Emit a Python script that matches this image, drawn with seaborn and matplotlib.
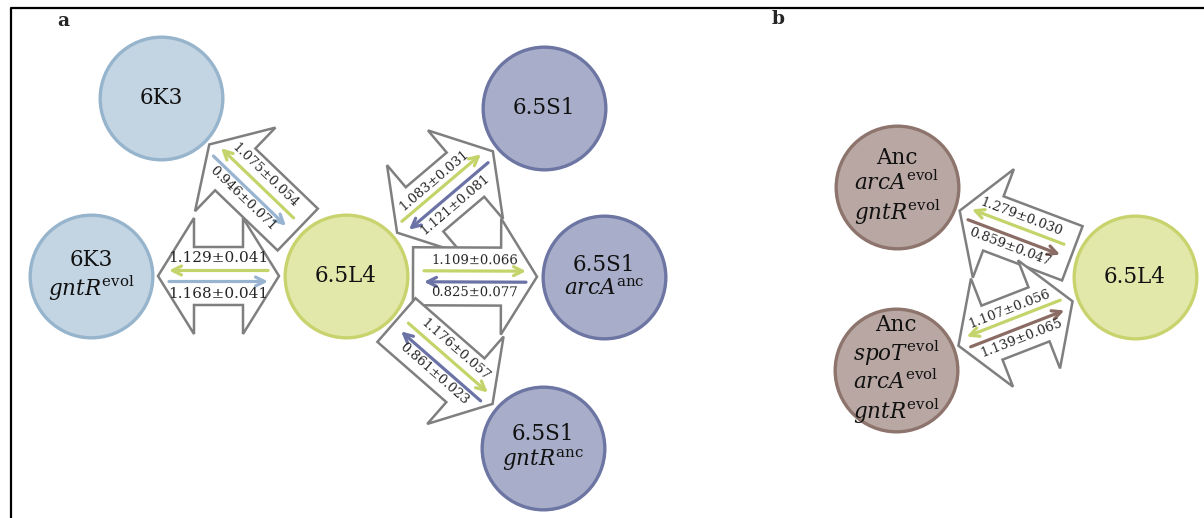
import numpy as np
import matplotlib.pyplot as plt
import seaborn as sns
from matplotlib.patches import Polygon

sns.set_theme(style="white")
plt.rcParams['font.family'] = ['DejaVu Serif']
plt.rcParams['mathtext.fontset'] = 'dejavuserif'

# strains (nodes)
node_labels = [
    "6.5L4",
    "6K3",
    "6K3\n$gntR^{\\rm evol}$",
    "6.5S1",
    "6.5S1\n$arcA^{\\rm anc}$",
    "6.5S1\n$gntR^{\\rm anc}$",
    "6.5L4",
    "Anc\n$arcA^{\\rm evol}$\n$gntR^{\\rm evol}$",
    "Anc\n$spoT^{\\rm evol}$\n$arcA^{\\rm evol}$\n$gntR^{\\rm evol}$",
]
node_group = ["L4", "K3", "K3", "S1", "S1", "S1", "L4", "Anc", "Anc"]

# competitions: hub -> partner, relative fitness (green = hub's value)
edge_hub = [0, 0, 0, 0, 0, 6, 6]
edge_partner = [1, 2, 3, 4, 5, 7, 8]
edge_kind = ["single", "double", "double", "single", "single", "single", "double"]
green_vals = ["1.075±0.054", "1.129±0.041", "1.083±0.031", "1.109±0.066",
              "1.176±0.057", "1.279±0.030", "1.107±0.056"]
partner_vals = ["0.946±0.071", "1.168±0.041", "1.121±0.081", "0.825±0.077",
                "0.861±0.023", "0.859±0.047", "1.139±0.065"]

# layout (pixel space)
node_x = [346, 161, 91, 544, 604, 543, 1135, 897, 896]
node_y = [276, 98, 276, 108, 277, 448, 277, 187, 370]
R = 63
fill = {"L4": "#e2e8aa", "K3": "#c3d4e2", "S1": "#a8aec9", "Anc": "#b8a7a2"}
edge = {"L4": "#c9d36e", "K3": "#97b4cd", "S1": "#6d75a3", "Anc": "#8d746d"}
arrow_col = {"L4": "#c5d46a", "K3": "#98b4d0", "S1": "#6a72a6", "Anc": "#8a6c64"}

fig = plt.figure(figsize=(12.04, 5.18), dpi=100)
ax = fig.add_axes([0, 0, 1, 1])
ax.set_xlim(0, 1204)
ax.set_ylim(518, 0)
ax.axis("off")

# frame
ax.plot([11, 11, 1204], [518, 8, 8], color="black", lw=1.6, solid_capstyle="butt")
ax.text(63, 21, "a", fontsize=13.5, fontweight="bold", ha="center", va="center")
ax.text(778, 19, "b", fontsize=13.5, fontweight="bold", ha="center", va="center")

# circles via seaborn scatter
lw = 2.4
diam_pt = 2 * R * 0.72 - lw
for g in fill:
    idx = [i for i, gg in enumerate(node_group) if gg == g]
    sns.scatterplot(x=[node_x[i] for i in idx], y=[node_y[i] for i in idx], ax=ax,
                    s=diam_pt ** 2, color=fill[g], edgecolor=edge[g], linewidth=lw,
                    zorder=3, legend=False)
for i, lab in enumerate(node_labels):
    ax.text(node_x[i], node_y[i], lab, fontsize=15.5, ha="center", va="center",
            linespacing=1.12, zorder=4, color="#111111")

HL, HW, SW = 36, 116, 58
for k in range(len(edge_hub)):
    h, p = edge_hub[k], edge_partner[k]
    c0 = np.array([node_x[h], node_y[h]], float)
    c1 = np.array([node_x[p], node_y[p]], float)
    dist = np.linalg.norm(c1 - c0)
    d = (c1 - c0) / dist
    n = np.array([-d[1], d[0]])
    if n[1] > 0:
        n = -n  # n points upward (green side)
    s0, s1 = R + 4, dist - R - 4
    if edge_kind[k] == "double":
        loc = [(s0, 0), (s0 + HL, HW / 2), (s0 + HL, SW / 2), (s1 - HL, SW / 2),
               (s1 - HL, HW / 2), (s1, 0), (s1 - HL, -HW / 2), (s1 - HL, -SW / 2),
               (s0 + HL, -SW / 2), (s0 + HL, -HW / 2)]
    else:
        loc = [(s0, SW / 2), (s1 - HL, SW / 2), (s1 - HL, HW / 2), (s1, 0),
               (s1 - HL, -HW / 2), (s1 - HL, -SW / 2), (s0, -SW / 2)]
    pts = [c0 + s * d + t * n for s, t in loc]
    ax.add_patch(Polygon(pts, closed=True, facecolor="white", edgecolor="#7f7f7f",
                 lw=1.8, joinstyle="miter", zorder=2))

    a0, a1 = s0 + 11, s1 - 11
    col_p = arrow_col[node_group[p]]
    # green: hub -> partner (upper side); partner colour: partner -> hub
    ax.annotate("", xy=c0 + a1 * d + 5.5 * n, xytext=c0 + a0 * d + 5.5 * n,
                arrowprops=dict(arrowstyle="->", color=arrow_col["L4"], lw=2.3,
                                mutation_scale=16, shrinkA=0, shrinkB=0), zorder=3)
    ax.annotate("", xy=c0 + a0 * d - 5.5 * n, xytext=c0 + a1 * d - 5.5 * n,
                arrowprops=dict(arrowstyle="->", color=col_p, lw=2.3,
                                mutation_scale=16, shrinkA=0, shrinkB=0), zorder=3)

    ang = np.degrees(np.arctan2(-d[1], d[0]))
    if ang > 90:
        ang -= 180
    elif ang <= -90:
        ang += 180
    mid = c0 + (s0 + s1) / 2 * d
    fs = 11 if edge_kind[k] == "double" and abs(d[1]) < 0.01 else 9.5
    off = 18 if fs == 11 else 16
    ax.text(*(mid + off * n), green_vals[k], fontsize=fs, rotation=ang,
            rotation_mode="anchor", ha="center", va="center", zorder=4)
    ax.text(*(mid - off * n), partner_vals[k], fontsize=fs, rotation=ang,
            rotation_mode="anchor", ha="center", va="center", zorder=4)

fig.savefig("out.png", dpi=100)
